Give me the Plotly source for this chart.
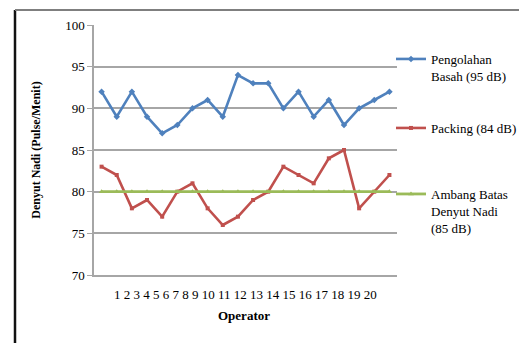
import plotly.graph_objects as go

# Operators 1..20 and measured pulse rates
operators = [str(i) for i in range(1, 21)]
pengolahan_basah = [92, 89, 92, 89, 87, 88, 90, 91, 89, 94, 93, 93, 90, 92, 89, 91, 88, 90, 91, 92]
packing = [83, 82, 78, 79, 77, 80, 81, 78, 76, 77, 79, 80, 83, 82, 81, 84, 85, 78, 80, 82]
ambang_batas = [80] * 20

series_names = [
    "Pengolahan<br>Basah (95 dB)",
    "Packing (84 dB)",
    "Ambang Batas<br>Denyut Nadi<br>(85 dB)",
]
y_ticks = [70, 75, 80, 85, 90, 95, 100]

FONT = "Liberation Serif, Times New Roman, serif"
W, H = 519, 343
L, R, T, B = 94, 122, 25, 68
pw, ph = W - L - R, H - T - B


def px_x(x):
    return (x - L) / pw


def px_y(y):
    return (H - B - y) / ph


x_pos = list(range(1, len(operators) + 1))

fig = go.Figure()
fig.add_trace(go.Scatter(
    x=x_pos, y=pengolahan_basah, name=series_names[0], mode="lines+markers",
    line=dict(color="#4F81BD", width=2.6),
    marker=dict(symbol="diamond", size=5, color="#4F81BD"),
    legend="legend",
))
fig.add_trace(go.Scatter(
    x=x_pos, y=packing, name=series_names[1], mode="lines+markers",
    line=dict(color="#C0504D", width=2.6),
    marker=dict(symbol="square", size=4, color="#C0504D"),
    legend="legend2",
))
fig.add_trace(go.Scatter(
    x=x_pos, y=ambang_batas, name=series_names[2], mode="lines+markers",
    line=dict(color="#9BBB59", width=2.8),
    marker=dict(symbol="triangle-up", size=5, color="#9BBB59"),
    legend="legend3",
))

legend_style = dict(
    font=dict(family=FONT, size=13, color="#000000"),
    bgcolor="rgba(0,0,0,0)", borderwidth=0,
    xanchor="left", yanchor="top", valign="top",
    itemwidth=30, tracegroupgap=0,
)

fig.update_layout(
    width=W, height=H,
    margin=dict(l=L, r=R, t=T, b=B, autoexpand=False),
    paper_bgcolor="white", plot_bgcolor="white",
    font=dict(family=FONT, size=13, color="#000000"),
    showlegend=True,
    legend=dict(x=px_x(391), y=px_y(44), **legend_style),
    legend2=dict(x=px_x(391), y=px_y(113), **legend_style),
    legend3=dict(x=px_x(391), y=px_y(179), **legend_style),
    xaxis=dict(
        range=[0.5, len(operators) + 0.5],
        showgrid=False, zeroline=False,
        showticklabels=False, ticks="",
        showline=True, linecolor="#A6A6A6", linewidth=1.5,
        fixedrange=True,
    ),
    yaxis=dict(
        range=[70, 100], tickvals=y_ticks,
        ticktext=[str(v) for v in y_ticks],
        showgrid=True, gridcolor="#A6A6A6", gridwidth=1.8,
        zeroline=False,
        showline=True, linecolor="#A6A6A6", linewidth=1.5,
        ticks="outside", ticklen=5, tickcolor="#A6A6A6",
        tickfont=dict(family=FONT, size=13, color="#000000"),
        title=dict(text="<b>Denyut Nadi (Pulse/Menit)</b>",
                   font=dict(family=FONT, size=12, color="#000000"),
                   standoff=22),
        fixedrange=True,
    ),
    annotations=[
        dict(text=" ".join(operators), xref="paper", yref="paper",
             x=px_x(112), y=px_y(294), xanchor="left", yanchor="middle",
             showarrow=False, font=dict(family=FONT, size=13, color="#000000")),
        dict(text="<b>Operator</b>", xref="paper", yref="paper",
             x=px_x(244), y=px_y(315), xanchor="center", yanchor="middle",
             showarrow=False, font=dict(family=FONT, size=13, color="#000000")),
    ],
    shapes=[
        # outer frame: dark left edge and grey top edge
        dict(type="line", xref="paper", yref="paper",
             x0=px_x(15), x1=px_x(15), y0=px_y(10), y1=px_y(H + 5),
             line=dict(color="#111111", width=2.5)),
        dict(type="line", xref="paper", yref="paper",
             x0=px_x(15), x1=px_x(W + 5), y0=px_y(10), y1=px_y(10),
             line=dict(color="#7F7F7F", width=2)),
    ],
)

fig.write_html("out.html")
